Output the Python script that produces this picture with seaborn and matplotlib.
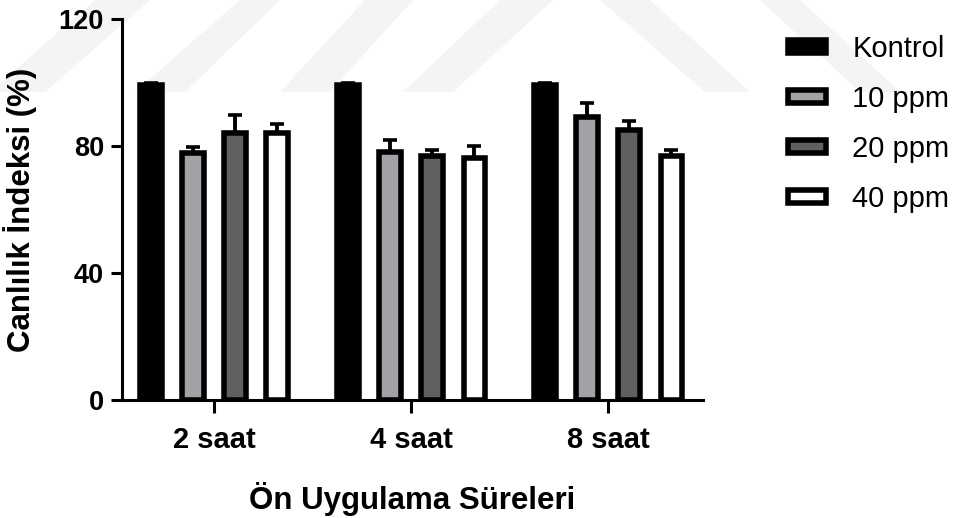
import numpy as np
import pandas as pd
import matplotlib
matplotlib.use("Agg")
import matplotlib.pyplot as plt
from matplotlib.patches import Polygon
import seaborn as sns

# ---- data -------------------------------------------------------------
times = ["2 saat", "4 saat", "8 saat"]
groups = ["Kontrol", "10 ppm", "20 ppm", "40 ppm"]

kontrol = [99.3, 99.3, 99.2]
kontrol_err = [0.6, 0.6, 0.6]
ppm10 = [77.9, 78.0, 89.0]
ppm10_err = [1.9, 3.9, 4.7]
ppm20 = [84.0, 77.0, 85.0]
ppm20_err = [5.8, 1.8, 2.9]
ppm40 = [84.0, 76.1, 77.0]
ppm40_err = [2.9, 3.8, 1.8]

y_ticks = [0, 40, 80, 120]
x_title = "Ön Uygulama Süreleri"
y_title = "Canlılık İndeksi (%)"

colors = ["#000000", "#A2A1A6", "#606060", "#FFFFFF"]

means = {"Kontrol": kontrol, "10 ppm": ppm10, "20 ppm": ppm20, "40 ppm": ppm40}
errs = {"Kontrol": kontrol_err, "10 ppm": ppm10_err, "20 ppm": ppm20_err, "40 ppm": ppm40_err}

rows = []
for g in groups:
    for t, v in zip(times, means[g]):
        rows.append({"Süre": t, "Grup": g, "Değer": v})
df = pd.DataFrame(rows)

# ---- figure -----------------------------------------------------------
sns.set_theme(style="ticks")
plt.rcParams["font.family"] = ["Liberation Sans", "DejaVu Sans"]
plt.rcParams["text.color"] = "black"
plt.rcParams["axes.labelcolor"] = "black"
plt.rcParams["xtick.color"] = "black"
plt.rcParams["ytick.color"] = "black"

W, H = 963, 518
fig = plt.figure(figsize=(W / 100, H / 100), dpi=100)
fig.patch.set_facecolor("white")

# faint background emblem stripes
def band(pts):
    return Polygon([(x / W, 1 - y / H) for x, y in pts], closed=True,
                   transform=fig.transFigure, facecolor="#F4F4F4",
                   edgecolor="none", zorder=-10)

stripes = [
    [(-10, 92), (45, 92), (150, 0), (95, 0)],
    [(135, 92), (185, 92), (280, 0), (240, 0)],
    [(280, 92), (330, 92), (413, 0), (365, 0)],
    [(403, 92), (453, 92), (553, 0), (500, 0)],
    [(600, 0), (650, 0), (750, 92), (705, 92)],
    [(760, 0), (800, 0), (900, 92), (860, 92)],
]
for s in stripes:
    fig.patches.append(band(s))

ax = fig.add_axes([122 / W, 1 - 400 / H, (703 - 122) / W, (400 - 19) / H])
ax.patch.set_alpha(0)

sns.barplot(data=df, x="Süre", y="Değer", hue="Grup", order=times,
            hue_order=groups, palette=colors, errorbar=None,
            width=0.856, gap=0.49, edgecolor="black", linewidth=4,
            saturation=1, ax=ax, legend=False, zorder=3)

# upper-only error bars placed at the drawn bar centres
for g, cont in zip(groups, ax.containers):
    xs = [p.get_x() + p.get_width() / 2 for p in cont.patches]
    ys = means[g]
    ax.errorbar(xs, ys, yerr=[np.zeros(len(ys)), errs[g]], fmt="none",
                ecolor="black", elinewidth=2.8, capsize=4.7, capthick=2.6,
                zorder=2)

ax.set_ylim(0, 120)
ax.set_xlim(-0.467, 2.482)
ax.set_yticks(y_ticks)
ax.set_xticks(range(len(times)))
ax.set_xticklabels(times)

for side in ["top", "right"]:
    ax.spines[side].set_visible(False)
for side in ["left", "bottom"]:
    ax.spines[side].set_linewidth(2.2)
    ax.spines[side].set_color("black")

ax.tick_params(axis="y", length=8, width=2.2, pad=5, labelsize=19.5,
               colors="black")
ax.tick_params(axis="x", length=9, width=2.2, pad=10, labelsize=21,
               colors="black")
for lab in ax.get_xticklabels() + ax.get_yticklabels():
    lab.set_fontweight("bold")

ax.set_xlabel(x_title, fontsize=22.5, fontweight="bold", labelpad=20)
ax.set_ylabel(y_title, fontsize=22.5, fontweight="bold")
ax.yaxis.set_label_coords(-0.146, 0.5)

leg = ax.legend(ax.containers, groups, loc="upper left",
                bbox_to_anchor=(788 / W, 1 - 35 / H),
                bbox_transform=fig.transFigure, frameon=False,
                fontsize=21, handlelength=1.3, handleheight=0.3,
                handletextpad=0.9, labelspacing=0.75, borderpad=0,
                borderaxespad=0)
for t in leg.get_texts():
    t.set_color("black")

fig.savefig("out.png", dpi=100, facecolor="white")
